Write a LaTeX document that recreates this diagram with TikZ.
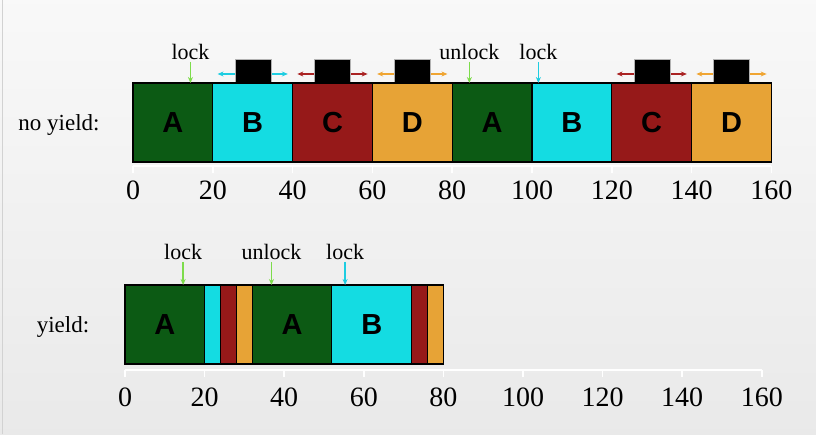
\documentclass[tikz,border=0pt]{standalone}
\usepackage{fontspec}
\setmainfont{Liberation Serif}
\newfontfamily\blkfont{Liberation Sans}
\usetikzlibrary{arrows.meta}
\definecolor{colA}{RGB}{12,90,20}
\definecolor{colB}{RGB}{20,220,226}
\definecolor{colC}{RGB}{150,25,25}
\definecolor{colD}{RGB}{231,163,54}
\definecolor{lkA}{RGB}{125,220,75}
\definecolor{lkB}{RGB}{30,205,225}
\definecolor{mvC}{RGB}{170,35,35}
\definecolor{mvD}{RGB}{240,165,50}
\tikzset{
    blk/.style={draw, rectangle, line width=1.2pt, minimum height=79pt, inner sep=0pt,
        font=\blkfont\bfseries\fontsize{29}{30}\selectfont},
    fullblk/.style={minimum width=79.8pt},
    slimblk/.style={minimum width=15.9pt},
    cpu/.style={rectangle, fill=black, draw=gray!60, line width=0.4pt, minimum width=36pt, minimum height=24pt, inner sep=0pt, anchor=south},
    evlab/.style={font=\fontsize{22}{24}\selectfont, inner sep=2pt},
    ticklab/.style={font=\fontsize{28}{30}\selectfont},
    rowlab/.style={font=\fontsize{23}{25}\selectfont},
    evarr/.style={-{Stealth[length=6pt,width=5pt]}, line width=1.6pt},
    mvarr/.style={{Stealth[length=6pt,width=5pt]}-{Stealth[length=6pt,width=5pt]}, line width=1.6pt},
}
\begin{document}
\begin{tikzpicture}
    \useasboundingbox (0,0) rectangle (816pt,434pt);
    \shade[top color=gray!5, bottom color=gray!17] (0,0) rectangle (816pt,434pt);
    \draw[gray!35, line width=0.8pt] (2pt,0) -- (2pt,434pt);

    \node[rowlab] (rNo) at (59pt,309pt) {no yield:};
    \node[rowlab] (rYes) at (63pt,107pt) {yield:};

    % no yield
    \begin{scope}[shift={(133pt,0)}, x=3.99pt]
        \coordinate (mvl1) at (21.2,360pt);
        \coordinate (mvr1) at (38.8,360pt);
        \coordinate (mvl2) at (41.2,360pt);
        \coordinate (mvr2) at (58.8,360pt);
        \coordinate (mvl3) at (61.2,360pt);
        \coordinate (mvr3) at (78.8,360pt);
        \coordinate (mvl4) at (121.2,360pt);
        \coordinate (mvr4) at (138.8,360pt);
        \coordinate (mvl5) at (141.2,360pt);
        \coordinate (mvr5) at (158.8,360pt);
        \draw[mvarr, lkB] (mvl1) -- (mvr1);
        \draw[mvarr, mvC] (mvl2) -- (mvr2);
        \draw[mvarr, mvD] (mvl3) -- (mvr3);
        \draw[mvarr, mvC] (mvl4) -- (mvr4);
        \draw[mvarr, mvD] (mvl5) -- (mvr5);

        \node[cpu] (cpu1) at (30,351pt) {};
        \node[cpu] (cpu2) at (50,351pt) {};
        \node[cpu] (cpu3) at (70,351pt) {};
        \node[cpu] (cpu4) at (130,351pt) {};
        \node[cpu] (cpu5) at (150,351pt) {};

        \node[blk, fullblk, fill=colA] (A1) at (10,311.5pt) {A};
        \node[blk, fullblk, fill=colB] (B1) at (30,311.5pt) {B};
        \node[blk, fullblk, fill=colC] (C1) at (50,311.5pt) {C};
        \node[blk, fullblk, fill=colD] (D1) at (70,311.5pt) {D};
        \node[blk, fullblk, fill=colA] (A2) at (90,311.5pt) {A};
        \node[blk, fullblk, fill=colB] (B2) at (110,311.5pt) {B};
        \node[blk, fullblk, fill=colC] (C2) at (130,311.5pt) {C};
        \node[blk, fullblk, fill=colD] (D2) at (150,311.5pt) {D};

        \node[evlab] (lk1) at (14.4,382pt) {lock};
        \node[evlab] (ul1) at (84.3,382pt) {unlock};
        \node[evlab] (lk2) at (101.6,382pt) {lock};
        \coordinate (lk1e) at (14.4,351pt);
        \coordinate (ul1e) at (84.3,351pt);
        \coordinate (lk2e) at (101.6,351pt);
        \draw[evarr, lkA] (lk1) -- (lk1e);
        \draw[evarr, lkA] (ul1) -- (ul1e);
        \draw[evarr, lkB] (lk2) -- (lk2e);

        \draw[white, line width=2.4pt] (0,268pt) -- (160,268pt);
        \foreach \t in {0,20,...,160} {
            \draw[white, line width=1.5pt] (\t,268pt) -- (\t,261pt);
            \node[ticklab] (n\t) at (\t,244pt) {\t};
        }
    \end{scope}

    % yield
    \begin{scope}[shift={(125pt,0)}, x=3.98pt]
        \node[blk, fullblk, fill=colA] (yA1) at (10,109.5pt) {A};
        \node[blk, slimblk, fill=colB] (yB1) at (22,109.5pt) {};
        \node[blk, slimblk, fill=colC] (yC1) at (26,109.5pt) {};
        \node[blk, slimblk, fill=colD] (yD1) at (30,109.5pt) {};
        \node[blk, fullblk, fill=colA] (yA2) at (42,109.5pt) {A};
        \node[blk, fullblk, fill=colB] (yB2) at (62,109.5pt) {B};
        \node[blk, slimblk, fill=colC] (yC2) at (74,109.5pt) {};
        \node[blk, slimblk, fill=colD] (yD2) at (78,109.5pt) {};

        \node[evlab] (ylk1) at (14.6,182pt) {lock};
        \node[evlab] (yul1) at (36.8,182pt) {unlock};
        \node[evlab] (ylk2) at (55.3,182pt) {lock};
        \coordinate (ylk1e) at (14.6,149pt);
        \coordinate (yul1e) at (36.8,149pt);
        \coordinate (ylk2e) at (55.3,149pt);
        \draw[evarr, lkA] (ylk1) -- (ylk1e);
        \draw[evarr, lkA] (yul1) -- (yul1e);
        \draw[evarr, lkB] (ylk2) -- (ylk2e);

        \draw[white, line width=2.4pt] (0,64pt) -- (160,64pt);
        \foreach \t in {0,20,...,160} {
            \draw[white, line width=1.5pt] (\t,64pt) -- (\t,57pt);
            \node[ticklab] (m\t) at (\t,37pt) {\t};
        }
    \end{scope}
\end{tikzpicture}
\end{document}
